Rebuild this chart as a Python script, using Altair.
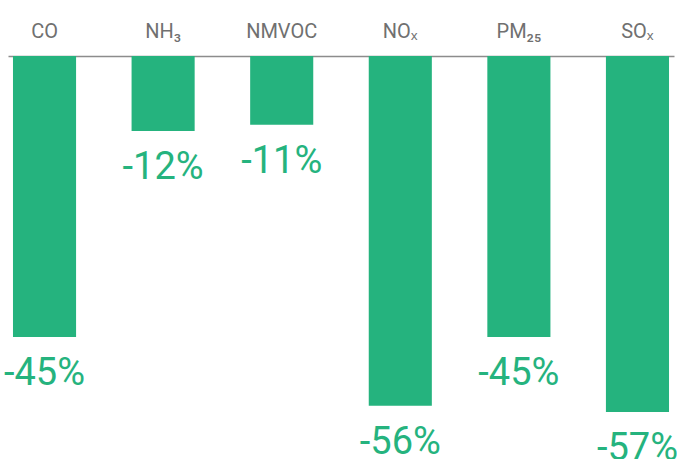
import altair as alt
import pandas as pd

categories = ["CO", "NH₃", "NMVOC", "NOₓ", "PM₂₅", "SOₓ"]
values = [-45, -12, -11, -56, -45, -57]

df = pd.DataFrame({
    "cat": categories,
    "value": values,
    "label": [f"{v}%" for v in values],
})

GREEN = "#25b37e"
FONT = "Roboto, 'Noto Sans', 'DejaVu Sans', sans-serif"

x = alt.X(
    "cat:N",
    sort=categories,
    scale=alt.Scale(paddingInner=0.468, paddingOuter=0.042),
    axis=alt.Axis(
        orient="top", title=None, ticks=False, labelAngle=0,
        domainColor="#8c8c8c", domainWidth=1.5,
        labelFont=FONT, labelFontSize=20, labelColor="#707070",
        labelPadding=15,
    ),
)
y = alt.Y("value:Q", scale=alt.Scale(domain=[-57, 0], nice=False, zero=True), axis=None)

bars = alt.Chart(df).mark_bar(color=GREEN).encode(x=x, y=y)
text = alt.Chart(df).mark_text(
    color=GREEN, font=FONT, fontSize=38, baseline="alphabetic", dy=48
).encode(x=alt.X("cat:N", sort=categories), y="value:Q", text="label:N")

chart = alt.layer(bars, text).properties(
    width=666, height=356,
    padding={"left": 8, "top": 56, "right": 3, "bottom": 47},
    autosize=alt.AutoSizeParams(type="none"),
).configure_view(stroke=None)

chart.save("out.html", embed_options={"renderer": "svg", "actions": False})
